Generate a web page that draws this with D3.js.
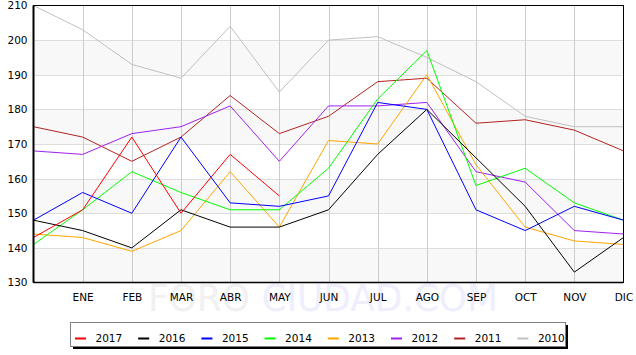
<!DOCTYPE html>
<html>
<head>
<meta charset="utf-8">
<script src="https://cdn.jsdelivr.net/npm/d3@7"></script>
<style>
html,body{margin:0;padding:0;background:#fff;}
svg{display:block;font-family:"DejaVu Sans",sans-serif;}
</style>
</head>
<body>
<svg id="chart" width="636" height="355"></svg>
<script>
const months = ["", "ENE", "FEB", "MAR", "ABR", "MAY", "JUN", "JUL", "AGO", "SEP", "OCT", "NOV", "DIC"];
const yTicks = [130, 140, 150, 160, 170, 180, 190, 200, 210];
const years = ["2017", "2016", "2015", "2014", "2013", "2012", "2011", "2010"];
const colors = ["#ff0000", "#000000", "#0000ff", "#00ff00", "#ffa500", "#a020f0", "#b22222", "#c0c0c0"];

const v2017 = [143, 151, 172, 150, 167, 155, null, null, null, null, null, null, null];
const v2016 = [148, 145, 140, 151, 146, 146, 151, 167, 180, 166, 152, 133, 143];
const v2015 = [148, 156, 150, 172, 153, 152, 155, 182, 180, 151, 145, 152, 148];
const v2014 = [141, 151, 162, 156, 151, 151, 163, 183, 197, 158, 163, 153, 148];
const v2013 = [144, 143, 139, 145, 162, 146, 171, 170, 190, 164, 146, 142, 141];
const v2012 = [168, 167, 173, 175, 181, 165, 181, 181, 182, 162, 159, 145, 144];
const v2011 = [175, 172, 165, 172, 184, 173, 178, 188, 189, 176, 177, 174, 168];
const v2010 = [210, 203, 193, 189, 204, 185, 200, 201, 195, 188, 178, 175, 175];
const seriesValues = [v2017, v2016, v2015, v2014, v2013, v2012, v2011, v2010];

(function () {
const svg = d3.select("#chart");
const pL = 33.5, pR = 623.5, pT = 5.5, pB = 282.5;

const x = d3.scaleLinear().domain([0, months.length - 1]).range([pL, pR]);
const y = d3.scaleLinear().domain([130, 210]).range([pB, pT]);

// watermark
const wm = svg.append("text")
  .attr("x", 148).attr("y", 311)
  .attr("font-size", 38)
  .attr("font-family", "'DejaVu Sans', sans-serif")
  .attr("textLength", 350).attr("lengthAdjust", "spacingAndGlyphs");
wm.append("tspan").attr("fill", "#f1f1f1").text("FORO ");
wm.append("tspan").attr("fill", "#eeeefd").text("CIUDAD.COM");

// bands
const bandPairs = d3.pairs(yTicks).filter((p, i) => i % 2 === 0);
svg.append("g").selectAll("rect").data(bandPairs).join("rect")
  .attr("x", pL).attr("width", pR - pL)
  .attr("y", d => y(d[1])).attr("height", d => y(d[0]) - y(d[1]))
  .attr("fill", "#f8f8f8");

// horizontal grid
svg.append("g").selectAll("line").data(yTicks.slice(1, -1)).join("line")
  .attr("x1", pL).attr("x2", pR)
  .attr("y1", d => Math.round(y(d)) + 0.5).attr("y2", d => Math.round(y(d)) + 0.5)
  .attr("stroke", "#dddddd").attr("stroke-width", 1);

// vertical grid
svg.append("g").selectAll("line").data(d3.range(1, months.length - 1)).join("line")
  .attr("x1", d => Math.round(x(d)) + 0.5).attr("x2", d => Math.round(x(d)) + 0.5)
  .attr("y1", pT).attr("y2", pB)
  .attr("stroke", "#cccccc").attr("stroke-width", 1);

// y labels
const yAxis = d3.axisLeft(y).tickValues(yTicks).tickSize(0).tickPadding(6);
const gy = svg.append("g").attr("transform", `translate(${pL},0)`).call(yAxis);
gy.select(".domain").remove();
gy.selectAll("text").attr("font-size", 10.5).attr("font-family", "'DejaVu Sans', sans-serif").attr("fill", "#000");

// x labels
const xAxis = d3.axisBottom(x).tickValues(d3.range(1, months.length)).tickFormat(i => months[i]).tickSize(0).tickPadding(11);
const gx = svg.append("g").attr("transform", `translate(0,${pB})`).call(xAxis);
gx.select(".domain").remove();
gx.selectAll("text").attr("font-size", 10.5).attr("font-family", "'DejaVu Sans', sans-serif").attr("fill", "#000");

// lines
const line = d3.line().defined(d => d != null).x((d, i) => x(i)).y(d => y(d));
const order = d3.range(seriesValues.length).reverse();
svg.append("g").selectAll("path").data(order).join("path")
  .attr("d", i => line(seriesValues[i]))
  .attr("fill", "none")
  .attr("stroke", i => colors[i])
  .attr("stroke-width", 1);

// frame
svg.append("rect").attr("x", pL).attr("y", pT).attr("width", pR - pL).attr("height", pB - pT)
  .attr("fill", "none").attr("stroke", "#000").attr("stroke-width", 1);
svg.append("line").attr("x1", pL).attr("x2", pL).attr("y1", pT).attr("y2", pB)
  .attr("stroke", "#000").attr("stroke-width", 2);
svg.append("line").attr("x1", pL).attr("x2", pR).attr("y1", pB).attr("y2", pB)
  .attr("stroke", "#000").attr("stroke-width", 1.5);

// legend
const lg = svg.append("g");
lg.append("rect").attr("x", 73).attr("y", 325).attr("width", 495).attr("height", 24).attr("fill", "#000");
lg.append("rect").attr("x", 70.5).attr("y", 322.5).attr("width", 495).attr("height", 24)
  .attr("fill", "#fff").attr("stroke", "#808080").attr("stroke-width", 1);
const item = lg.selectAll("g.item").data(years).join("g")
  .attr("class", "item")
  .attr("transform", (d, i) => `translate(${75 + i * 63.2},0)`);
item.append("line").attr("x1", 0).attr("x2", 11).attr("y1", 338.5).attr("y2", 338.5)
  .attr("stroke", (d, i) => colors[i]).attr("stroke-width", 2);
item.append("text").attr("x", 20.5).attr("y", 341.5)
  .attr("font-size", 10.5).attr("font-family", "'DejaVu Sans', sans-serif").attr("fill", "#000")
  .text(d => d);
})();
</script>
</body>
</html>
